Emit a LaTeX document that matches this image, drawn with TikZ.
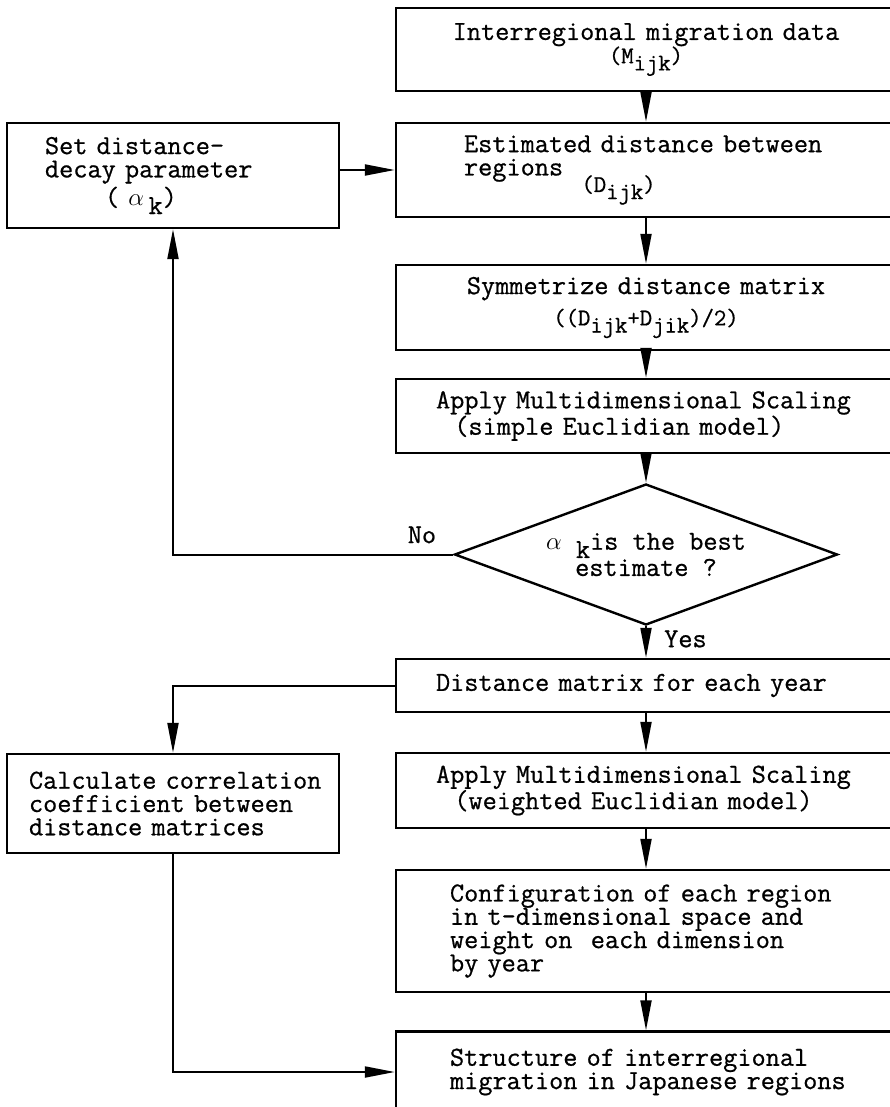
\documentclass[tikz,border=0pt]{standalone}
\usepackage{fontspec}
\setmonofont{Latin Modern Mono}[FakeBold=0.7]
\usetikzlibrary{arrows.meta,shapes.geometric,positioning}
\newcommand{\flowfont}{\ttfamily\fontsize{27.5}{23.3}\selectfont}
\newcommand{\lowtxt}[1]{\raisebox{-0.3em}{#1}}
\newcommand{\mtx}[2]{{\fontsize{24}{24}\selectfont(#1\lowtxt{#2})}}

\begin{document}
\begin{tikzpicture}[x=1pt,y=-1pt,
  box/.style={draw,line width=2.4pt,minimum width=500pt,inner ysep=0pt,font=\flowfont},
  lbox/.style={box,minimum width=332pt},
  decision/.style={draw,diamond,line width=2.4pt,aspect=2.7,inner sep=0pt,minimum width=383pt,minimum height=141pt,align=center,font=\flowfont},
  lbl/.style={inner sep=0pt,font=\flowfont},
  flow/.style={line width=2pt,-{Triangle[length=30pt,width=11pt]}}]
\path[use as bounding box,clip] (0,0) rectangle (890,1107);

% main column
\node[box,minimum height=83pt,text width=460pt,inner xsep=20pt,align=center] (mig) at (646,49.5)
  {Interregional migration data\\\mtx{M}{ijk}};
\node[box,minimum height=94pt,text width=364pt,inner xsep=68pt,align=left] (dist) at (646,170)
  {Estimated distance between\\regions~~\raisebox{-0.6em}{\mtx{D}{ijk}}};
\node[box,minimum height=85pt,text width=460pt,inner xsep=20pt,align=center] (sym) at (646,307.5)
  {Symmetrize distance matrix\\[8pt]{\fontsize{24}{24}\selectfont((D\lowtxt{ijk}+D\lowtxt{jik})/2)}};
\node[box,minimum height=74pt,text width=420pt,inner xsep=40pt,align=left] (mds) at (646,416)
  {Apply Multidimensional Scaling\\~~(simple Euclidian model)};
\node[decision] (best) at (646,554.5) {$\alpha$~\lowtxt{k}is the best\\estimate ?};
\node[box,minimum height=53pt,text width=420pt,inner xsep=40pt,align=left] (yearly) at (646,685.5)
  {Distance matrix for each year};
\node[box,minimum height=75pt,text width=420pt,inner xsep=40pt,align=left] (wmds) at (646,790.5)
  {Apply Multidimensional Scaling\\~~(weighted Euclidian model)};
\node[box,minimum height=122pt,text width=392pt,inner xsep=54pt,align=left] (config) at (646,931)
  {Configuration of each region\\in t-dimensional space and\\weight on~ each dimension\\by year};
\node[box,minimum height=81pt,text width=392pt,inner xsep=54pt,align=left] (struct) at (646,1072)
  {Structure of interregional\\migration~in~Japanese~regions};

% side boxes
\node[lbox,minimum height=105pt,text width=256pt,inner xsep=38pt,align=left] (alpha) at (173,175.5)
  {Set distance-\\decay parameter\\[2pt]\hspace*{60pt}(~$\alpha$\,\lowtxt{k})};
\node[lbox,minimum height=99pt,text width=288pt,inner xsep=22pt,align=left] (corr) at (173,803.5)
  {Calculate~correlation\\coefficient between\\distance matrices};

\node[lbl,above left=11pt and 17pt of best.west] (no) {No};
\node[lbl,below right=4pt and 18pt of best.south] (yes) {Yes};

% connectors
\draw[flow] (mig) -- (dist);
\draw[flow] (alpha.east |- dist.west) -- (dist.west);
\draw[flow] (dist) -- (sym);
\draw[flow] (sym) -- (mds);
\draw[flow] (mds) -- (best);
\draw[flow] (best.west) -| (alpha.south);
\draw[flow] (best) -- (yearly);
\draw[flow] (yearly.west) -| (corr.north);
\draw[flow] (yearly) -- (wmds);
\draw[flow] (wmds) -- (config);
\draw[flow] (config) -- (struct);
\draw[flow] (corr.south) |- (struct.west);
\end{tikzpicture}
\end{document}
